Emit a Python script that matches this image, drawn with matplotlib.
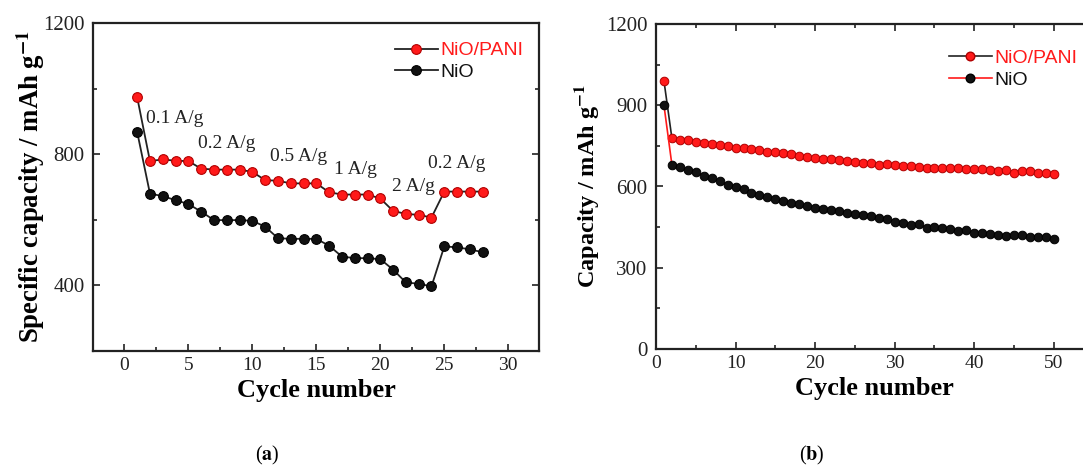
import matplotlib
matplotlib.use('Agg')
import matplotlib.pyplot as plt
from matplotlib.lines import Line2D
from matplotlib.ticker import MultipleLocator

plt.rcParams['font.family'] = 'Liberation Serif'
plt.rcParams['mathtext.fontset'] = 'stix'

# (a) rate performance
cyc_a = list(range(1, 29))
pani_a = [974, 779, 784, 780, 779, 756, 753, 753, 753, 746,
          721, 719, 711, 711, 711, 684, 677, 677, 677, 665,
          627, 618, 615, 607, 686, 686, 686, 686]
nio_a = [868, 680, 672, 660, 648, 625, 599, 599, 599, 597,
         579, 544, 542, 542, 542, 521, 488, 483, 483, 480,
         448, 409, 405, 397, 519, 516, 510, 501]
rate_labels = ['0.1 A/g', '0.2 A/g', '0.5 A/g', '1 A/g', '2 A/g', '0.2 A/g']
rate_x = [3.9, 8.0, 13.6, 18.05, 22.6, 26.0]
rate_y = [908, 833, 792, 754, 701, 771]

# (b) cycling
cyc_b = list(range(1, 51))
pani_b = [990, 778, 772, 770, 765, 760, 758, 755, 748, 743,
          742, 738, 733, 728, 726, 722, 720, 714, 710, 707,
          702, 700, 697, 693, 692, 688, 686, 680, 682, 680,
          677, 676, 672, 670, 668, 667, 667, 668, 665, 663,
          664, 660, 658, 662, 650, 658, 657, 648, 648, 645]
nio_b = [900, 680, 673, 662, 655, 638, 630, 620, 605, 598,
         590, 577, 570, 562, 555, 548, 540, 535, 528, 520,
         518, 513, 510, 503, 497, 493, 490, 485, 480, 470,
         465, 458, 462, 448, 450, 447, 442, 437, 438, 430,
         428, 425, 422, 418, 420, 421, 415, 415, 413, 405]

fig = plt.figure(figsize=(10.83, 4.68), dpi=100)
W, H = 1083, 468

def box(l, t, r, b):
    return [l / W, 1 - b / H, (r - l) / W, (b - t) / H]

ax1 = fig.add_axes(box(93, 23, 539, 351))
ax2 = fig.add_axes(box(656, 24, 1092, 349))

RED = '#ff1a1a'

# panel a
ax1.plot(cyc_a, pani_a, color='#222222', lw=1.3, marker='o', ms=7,
         mfc=RED, mec='#b00000', mew=0.8, label='NiO/PANI', zorder=3)
ax1.plot(cyc_a, nio_a, color='#222222', lw=1.3, marker='o', ms=7,
         mfc='#111111', mec='#000000', mew=0.8, label='NiO', zorder=3)
for s, x, y in zip(rate_labels, rate_x, rate_y):
    ax1.text(x, y, s, fontsize=14, ha='center', va='center', color='#222222')
ax1.set_xlim(-2.45, 32.4)
ax1.set_ylim(200, 1200)
ax1.xaxis.set_major_locator(MultipleLocator(5))
ax1.xaxis.set_minor_locator(MultipleLocator(2.5))
ax1.yaxis.set_major_locator(MultipleLocator(400))
ax1.yaxis.set_minor_locator(MultipleLocator(200))
ax1.set_xlabel('Cycle number', fontsize=19, fontweight='bold', labelpad=4)
ax1.set_ylabel(r'Specific capacity / mAh g$^{\mathbf{-1}}$', fontsize=19.3,
               fontweight='bold', labelpad=-3)
leg1 = ax1.legend(loc='upper right', frameon=False,
                  prop={'family': 'Liberation Sans', 'size': 14},
                  handlelength=2.2, handletextpad=0.15, labelspacing=0.2,
                  borderaxespad=0.4, bbox_to_anchor=(1.0, 0.99))
leg1.get_texts()[0].set_color(RED)
leg1.get_texts()[1].set_color('#111111')

# panel b
ax2.plot(cyc_b, pani_b, color='#222222', lw=1.2, marker='o', ms=6.2,
         mfc=RED, mec='#b00000', mew=0.7, zorder=3)
ax2.plot(cyc_b, nio_b, color=RED, lw=1.2, marker='o', ms=6.2,
         mfc='#111111', mec='#000000', mew=0.7, zorder=3)
ax2.set_xlim(0, 54.8)
ax2.set_ylim(0, 1200)
ax2.xaxis.set_major_locator(MultipleLocator(10))
ax2.xaxis.set_minor_locator(MultipleLocator(5))
ax2.yaxis.set_major_locator(MultipleLocator(300))
ax2.yaxis.set_minor_locator(MultipleLocator(150))
ax2.set_xlabel('Cycle number', fontsize=19, fontweight='bold', labelpad=4)
ax2.set_ylabel(r'Capacity / mAh g$^{\mathbf{-1}}$', fontsize=17.5,
               fontweight='bold', labelpad=4)
h1 = Line2D([], [], color='#222222', lw=1.2, marker='o', ms=6.2,
            mfc=RED, mec='#b00000')
h2 = Line2D([], [], color=RED, lw=1.2, marker='o', ms=6.2,
            mfc='#111111', mec='#000000')
leg2 = ax2.legend([h1, h2], ['NiO/PANI', 'NiO'], loc='upper left',
                  frameon=False, prop={'family': 'Liberation Sans', 'size': 14},
                  handlelength=2.2, handletextpad=0.15, labelspacing=0.2,
                  bbox_to_anchor=(0.632, 0.975))
leg2.get_texts()[0].set_color(RED)
leg2.get_texts()[1].set_color('#111111')

for ax in (ax1, ax2):
    for sp in ax.spines.values():
        sp.set_linewidth(1.6)
        sp.set_color('#222222')
    ax.tick_params(which='both', direction='in', width=1.2,
                   colors='#222222')
    ax.tick_params(axis='x', labelsize=14, pad=4)
    ax.tick_params(axis='y', labelsize=15, pad=6)
    ax.tick_params(which='major', length=5)
    ax.tick_params(which='minor', length=3)

ax1.tick_params(which='both', right=True, labelright=False)
ax2.tick_params(which='both', top=True)

fig.text(267 / W, 1 - 455 / H, r'($\mathbf{a}$)', fontsize=14.5,
         ha='center', va='center')
fig.text(812 / W, 1 - 455 / H, r'($\mathbf{b}$)', fontsize=14.5,
         ha='center', va='center')

fig.savefig('out.png', dpi=100)
